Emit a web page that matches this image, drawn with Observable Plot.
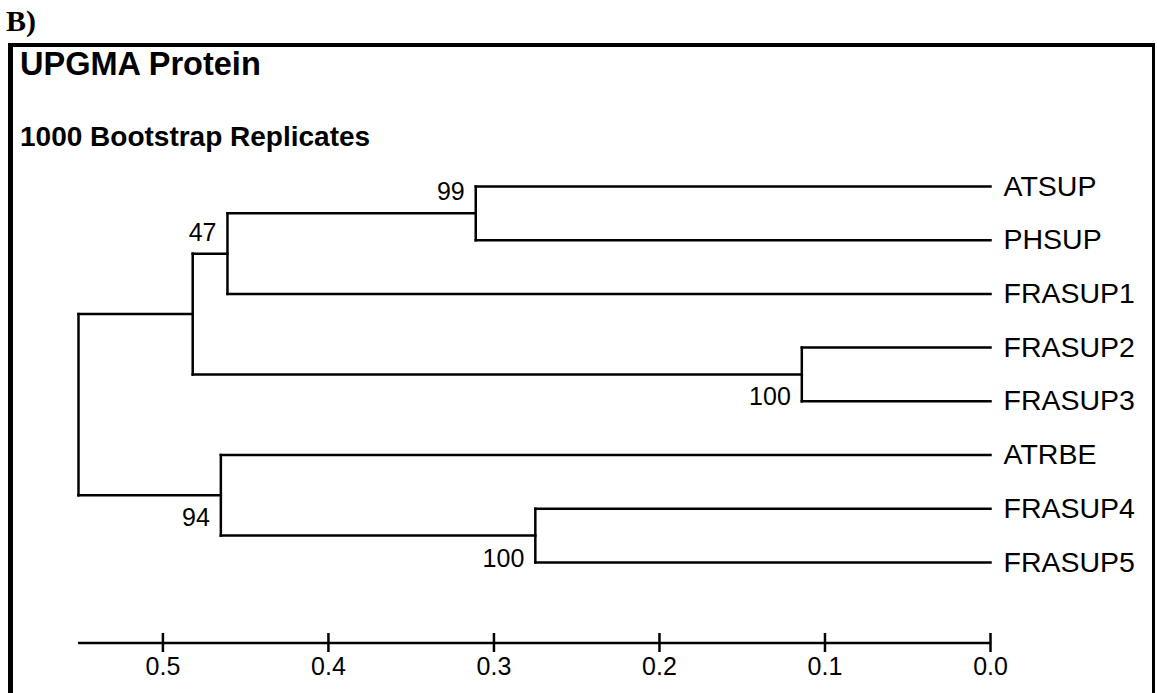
<!DOCTYPE html>
<html>
<head>
<meta charset="utf-8">
<script src="https://cdn.jsdelivr.net/npm/d3@7"></script>
<script src="https://cdn.jsdelivr.net/npm/@observablehq/plot@0.6"></script>
<style>
html, body { margin: 0; padding: 0; background: #fff; }
#page { position: relative; width: 1157px; height: 693px; overflow: hidden; background: #fff; }
#panel { position: absolute; left: 6px; top: 6px; font: bold 30px "Liberation Serif", "Times New Roman", serif; line-height: 30px; color: #000; }
#box { position: absolute; left: 8px; top: 43px; width: 1147px; height: 720px; box-sizing: border-box;
       border-top: 4px solid #000; border-left: 5px solid #000; border-right: 3px solid #000; }
.title { position: absolute; left: 20px; font-family: "Liberation Sans", Arial, sans-serif; font-weight: bold;
         line-height: 1; white-space: nowrap; color: #000; }
#chart { position: absolute; left: 0; top: 0; }
</style>
</head>
<body>
<div id="page">
  <div id="box"></div>
  <div id="panel">B)</div>
  <div class="title" style="top:48px;font-size:32.5px">UPGMA Protein</div>
  <div class="title" style="top:123px;font-size:28px">1000 Bootstrap Replicates</div>
  <div id="chart"></div>
</div>
<script>
// ---- data ----
const leafNames = ["ATSUP", "PHSUP", "FRASUP1", "FRASUP2", "FRASUP3", "ATRBE", "FRASUP4", "FRASUP5"];
const nodeNames = ["n1", "n2", "n3", "n4", "n5", "n6", "root"];
const nodeChildren = [
  ["ATSUP", "PHSUP"],
  ["n1", "FRASUP1"],
  ["FRASUP2", "FRASUP3"],
  ["n2", "n3"],
  ["FRASUP4", "FRASUP5"],
  ["ATRBE", "n5"],
  ["n4", "n6"]
];
const nodeHeights = [0.311, 0.461, 0.114, 0.482, 0.275, 0.465, 0.551];
const bootstrapValues = [99, 47, 100, null, 100, 94, null];
const bootstrapSide = ["above", "above", "below", null, "below", "below", null];
const axisTicks = [0.5, 0.4, 0.3, 0.2, 0.1, 0.0];
const axisRow = 8.5; // row index of the scale bar below the leaves

// ---- build tree geometry in data units ----
const pos = new Map();
leafNames.forEach((n, i) => pos.set(n, {h: 0, y: i}));
nodeNames.forEach((n, i) => {
  const [a, b] = nodeChildren[i].map(c => pos.get(c));
  pos.set(n, {h: nodeHeights[i], y: (a.y + b.y) / 2});
});
const segments = [];
nodeNames.forEach((n, i) => {
  const p = pos.get(n);
  const [a, b] = nodeChildren[i].map(c => pos.get(c));
  segments.push({x1: p.h, y1: a.y, x2: p.h, y2: b.y});
  segments.push({x1: a.h, y1: a.y, x2: p.h, y2: a.y});
  segments.push({x1: b.h, y1: b.y, x2: p.h, y2: b.y});
});
const leaves = leafNames.map(n => ({name: n, ...pos.get(n)}));
const support = nodeNames.map((n, i) => ({value: bootstrapValues[i], side: bootstrapSide[i], ...pos.get(n)}))
  .filter(d => d.value != null);
const rootHeight = d3.max(nodeHeights);

const chart = Plot.plot({
  width: 1157,
  height: 693,
  marginLeft: 78,
  marginRight: 167,
  marginTop: 186,
  marginBottom: 50.5,
  x: {domain: [rootHeight, 0], axis: null},
  y: {domain: [axisRow, 0], axis: null},
  style: {background: "transparent", fontFamily: "'Liberation Sans', Arial, sans-serif", overflow: "visible", color: "#000"},
  marks: [
    Plot.link(segments, {x1: "x1", y1: "y1", x2: "x2", y2: "y2", stroke: "#000", strokeWidth: 2.5, strokeLinecap: "square"}),
    Plot.text(leaves, {x: "h", y: "y", text: "name", textAnchor: "start", dx: 13, fontSize: 28.5, fill: "#000"}),
    Plot.text(support.filter(d => d.side === "above"), {x: "h", y: "y", text: d => String(d.value), textAnchor: "end", dx: -11, dy: -21, fontSize: 25, fill: "#000"}),
    Plot.text(support.filter(d => d.side === "below"), {x: "h", y: "y", text: d => String(d.value), textAnchor: "end", dx: -11, dy: 23, fontSize: 25, fill: "#000"}),
    Plot.ruleY([axisRow], {stroke: "#000", strokeWidth: 2.5}),
    Plot.axisX(axisTicks, {anchor: "bottom", tickSize: 19, dy: -9.5, tickPadding: 5, tickFormat: d3.format(".1f"), fontSize: 25, strokeWidth: 2.5, stroke: "#000", fill: "#000"})
  ]
});
document.getElementById("chart").appendChild(chart);
</script>
</body>
</html>
